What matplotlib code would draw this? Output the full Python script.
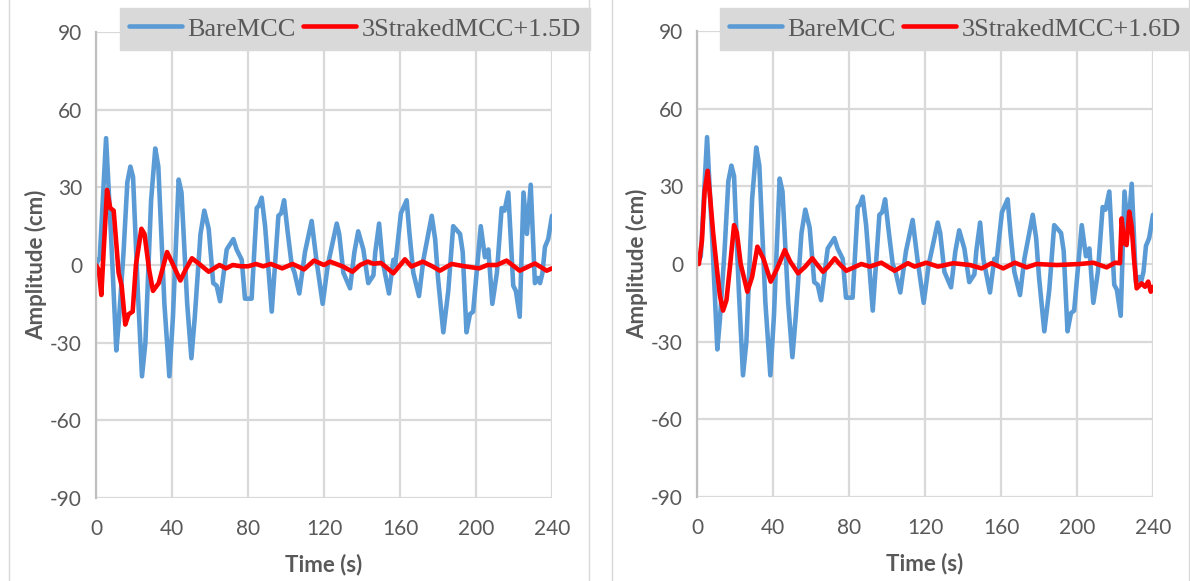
import matplotlib
matplotlib.use("Agg")
import matplotlib.pyplot as plt
from matplotlib.patches import Rectangle

plt.rcParams["axes.unicode_minus"] = False

# ---------------- data ----------------
bare_time = [0, 2, 5.3, 8, 10.7, 12, 14.5, 16.5, 18.1, 19.5,
             22, 24.2, 26, 29, 31.2, 32.8, 36, 38.6, 40.5, 43.5,
             45, 48, 50.2, 52, 55, 57, 59.3, 61.7, 63.5, 65.3,
             68.8, 72.3, 74, 76.7, 78.4, 81.9, 84.6, 85.8, 87.2, 89,
             92.5, 96, 97.5, 99, 101, 103, 104.5, 107, 110, 113.5,
             116, 119.3, 122, 126.7, 128, 130.2, 133.7, 136, 138, 140.7,
             143.3, 146, 147, 149, 150.7, 154.2, 156.5, 157.5, 160.5, 163.5,
             165, 167, 170, 172.3, 176.7, 178.5, 180, 182.8, 185.4, 188,
             191.6, 193, 195, 196.8, 198.5, 202.5, 204.7, 206.5, 208.6, 211,
             213.5, 215, 217, 219.6, 221, 223, 225, 226.8, 228.8, 231,
             232.5, 233.7, 235, 236.3, 238, 240]
bare_amp = [0, 3, 49, 10, -33, -22, 5, 32, 38, 34,
            -10, -43, -30, 25, 45, 38, -15, -43, -20, 33,
            28, -15, -36, -20, 12, 21, 14, -7, -8, -14,
            6, 10, 6, 2, -13, -13, 22, 23, 26, 15,
            -18, 19, 20, 25, 12, 0, -3, -11, 5, 17,
            2, -15, 0, 16, 12, -3, -9, 5, 13, 6,
            -7, -4, 5, 16, 2, -11, 2, 0, 20, 25,
            12, -3, -12, 2, 19, 10, -5, -26, -10, 15,
            12, 5, -26, -19, -18, 15, 3, 6, -15, -3,
            22, 21, 28, -8, -10, -20, 28, 12, 31, -7,
            -5, -7, -3, 7, 10, 19]

strake15_time = [0, 1.5, 2.8, 4, 5.8, 7.5, 9.3, 10.5, 11.9, 13.5,
                 15.4, 17.2, 19.3, 21, 23.9, 25.5, 28, 30, 33, 37.4,
                 40, 44.4, 47, 50.5, 54, 59.3, 63.7, 65, 68.4, 72,
                 76.3, 80, 84.2, 88, 92, 98, 103.5, 109.5, 114.7, 120,
                 123.2, 130, 135, 139, 143, 146, 150, 156.5, 162.6, 166,
                 172, 177, 181, 187.2, 194, 201.7, 206, 211, 216.1, 223,
                 231, 237.2, 240]
strake15_amp = [0, -2, -11.6, 5, 29, 22, 21, 10, -3, -8,
                -23, -19, -18, 0, 14, 12, -2, -10, -7, 5,
                1, -6, -2, 2.6, 0.6, -2.6, -0.6, 0, -1.3, 0,
                -0.5, -0.5, 0.4, -0.5, 0.4, -1.3, 0.4, -1.7, 1.7, 0,
                1.3, -0.6, -2.6, 0, 1.3, 0.5, 0.8, -3.2, 2.2, -0.6,
                1.3, -0.5, -2.2, 0.4, -0.5, -1.3, 0, 0, 1.7, -2.2,
                0.6, -2.2, -1.3]

strake16_time = [0, 1, 2.6, 4, 5.6, 7, 8.5, 10.2, 12, 13.7,
                 15.5, 17.5, 19.5, 21, 23, 26.5, 29, 31.8, 35, 38.8,
                 42, 46.2, 49, 53.2, 57, 60.7, 63, 66.3, 69, 72.5,
                 75, 78.6, 86.5, 91, 97, 104, 111, 114.5, 120.7, 126.8,
                 134.9, 143.7, 149.8, 155, 161.2, 167.3, 173.5, 178.7, 189.3, 201.5,
                 208.6, 215.6, 220, 222.6, 223.5, 224.9, 226.1, 227.5, 228.8, 230,
                 231.4, 234, 235.8, 237.5, 238.8, 240]
strake16_amp = [0, 0, 9, 28, 36, 25, 12, 0, -12, -18,
                -14, 0, 15, 12, 0, -10.7, -5, 6.7, 2, -6.8,
                -2, 5.4, 1, -3.6, -1, 2.2, 0, -3, -1, 2.2,
                0, -2.6, 0, -1, 0.5, -2.6, 0.3, -1, 0.5, -1,
                0.3, -0.4, -1.7, 0.3, -1.7, 0.5, -1.3, 0, -0.4, 0,
                0.5, -1.3, 0.5, 0.3, 17.6, 8, 7.3, 20.2, 14.4, 2,
                -9.4, -7.5, -8.8, -6.8, -10.7, -8.8]

x_ticks = [0, 40, 80, 120, 160, 200, 240]
y_ticks = [-90, -60, -30, 0, 30, 60, 90]
bare_label = "BareMCC"
strake_labels = ["3StrakedMCC+1.5D", "3StrakedMCC+1.6D"]

assert len(bare_time) == len(bare_amp)
assert len(strake15_time) == len(strake15_amp)
assert len(strake16_time) == len(strake16_amp)

# ---------------- style ----------------
W, H = 1190, 581
fig = plt.figure(figsize=(W / 100, H / 100), dpi=100)
BLUE = "#5b9bd5"
RED = "#ff0000"
GRID = "#d9d9d9"
TXT = "#595959"
tick_font = "Lato"
legend_font = "Liberation Serif"

def px_rect(x0, y0, x1, y1):
    return [x0 / W, 1 - y1 / H, (x1 - x0) / W, (y1 - y0) / H]

# panel borders
for (bx0, bx1) in [(9, 589), (612, 1189)]:
    fig.patches.append(Rectangle((bx0 / W, -0.01), (bx1 - bx0) / W, 1.2,
                                 transform=fig.transFigure, fill=False,
                                 edgecolor=GRID, linewidth=1.0))

panels = [
    (px_rect(96, 32, 552, 498), strake15_time, strake15_amp, strake_labels[0], (590, 8)),
    (px_rect(697, 31, 1153, 497), strake16_time, strake16_amp, strake_labels[1], (1190, 8)),
]

for rect, st, sa, slabel, leg in panels:
    ax = fig.add_axes(rect)
    ax.set_xlim(0, 240)
    ax.set_ylim(-90, 90)
    ax.set_xticks(x_ticks)
    ax.set_yticks(y_ticks)
    ax.grid(True, color=GRID, linewidth=1.6)
    ax.set_axisbelow(True)
    for s in ["top", "right", "bottom"]:
        ax.spines[s].set_visible(False)
    ax.spines["left"].set_color("#bfbfbf")
    ax.spines["left"].set_linewidth(1.6)
    ax.tick_params(length=0, labelsize=15, labelcolor=TXT)
    ax.tick_params(axis="x", pad=15)
    ax.tick_params(axis="y", pad=10)
    for lab in ax.get_xticklabels() + ax.get_yticklabels():
        lab.set_fontfamily(tick_font)

    lb, = ax.plot(bare_time, bare_amp, color=BLUE, linewidth=3.3,
                  solid_joinstyle="round", solid_capstyle="round", label=bare_label)
    lr, = ax.plot(st, sa, color=RED, linewidth=3.3,
                  solid_joinstyle="round", solid_capstyle="round", label=slabel)

    ax.set_xlabel("Time (s)", fontsize=16, fontweight="bold", color=TXT,
                  family=tick_font, labelpad=11)
    ax.set_ylabel("Amplitude (cm)", fontsize=16, fontweight="bold", color=TXT,
                  family=tick_font, labelpad=2)

    lx1, ly0 = leg
    lg = fig.legend(handles=[lb, lr], loc="upper right",
                    bbox_to_anchor=(lx1 / W, 1 - ly0 / H),
                    bbox_transform=fig.transFigure, ncol=2,
                    frameon=True, fancybox=False, facecolor=GRID, edgecolor=GRID,
                    framealpha=1, borderaxespad=0, handlelength=2.0,
                    handletextpad=0.2, columnspacing=0.3, borderpad=0.35,
                    prop={"family": legend_font, "size": 19})
    for t in lg.get_texts():
        t.set_color(TXT)
    for h in lg.legend_handles:
        h.set_linewidth(3.3)

fig.savefig("out.png", dpi=100)
